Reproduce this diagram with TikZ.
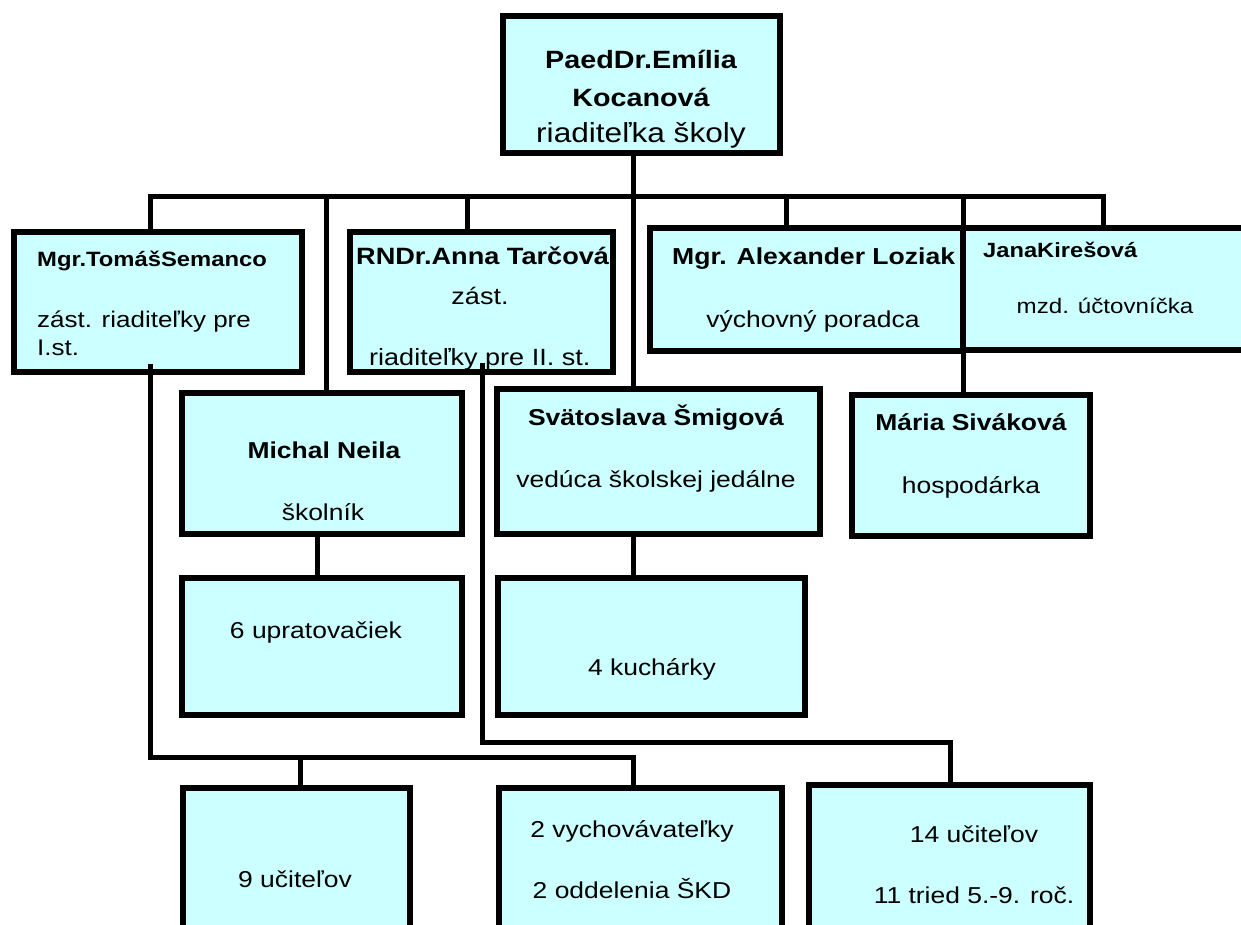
\documentclass[tikz,border=0pt]{standalone}
\usepackage{fontspec}
\setmainfont{Liberation Sans}[FakeStretch=1.15]
\definecolor{boxfill}{HTML}{CCFFFF}
\newcommand\fsz[1]{\fontsize{#1}{#1}\selectfont}
\tikzset{
  box/.style={draw=black, line width=6pt, fill=boxfill, rectangle, inner sep=0pt},
  conn/.style={draw=black, line width=5pt, line join=miter},
  lbl/.style={anchor=base, inner sep=0pt, font=\fsz{23}},
  lblw/.style={anchor=base west, inner sep=0pt, font=\fsz{23}},
}
\begin{document}
\begin{tikzpicture}[x=1pt,y=-1pt]
\clip (0,0) rectangle (1241,925);
\fill[white] (0,0) rectangle (1241,925);

% boxes
\node[box, minimum width=277pt, minimum height=137pt] (top) at (641.5,84.5) {};
\node[box, minimum width=288pt, minimum height=140pt] (sem) at (158,302) {};
\node[box, minimum width=263pt, minimum height=140pt] (tar) at (481.5,302) {};
\node[box, minimum width=313pt, minimum height=123pt] (loz) at (806.5,289.5) {};
\node[box, minimum width=284pt, minimum height=122pt] (kir) at (1105,289) {};
\node[box, minimum width=280pt, minimum height=141pt] (mic) at (322,463.5) {};
\node[box, minimum width=323pt, minimum height=145pt] (smi) at (658.5,461.5) {};
\node[box, minimum width=238pt, minimum height=141pt] (siv) at (971,465.5) {};
\node[box, minimum width=280pt, minimum height=137pt] (upr) at (322,646.5) {};
\node[box, minimum width=307pt, minimum height=137pt] (kuc) at (651.5,646.5) {};
\node[box, minimum width=227pt, minimum height=149pt] (uc9) at (296.5,862.5) {};
\node[box, minimum width=283pt, minimum height=149pt] (vyc) at (640.5,862.5) {};
\node[box, minimum width=281pt, minimum height=152pt] (uc14) at (949.5,861) {};

% texts
\node[lbl, font=\fsz{25}\bfseries] (t1) at (641,69) {PaedDr.Emília};
\node[lbl, font=\fsz{25}\bfseries] (t2) at (641,107) {Kocanová};
\node[lbl, font=\fsz{27.5}] (t3) at (641,143) {riaditeľka školy};

\node[lblw, font=\fsz{20.7}\bfseries] (s1) at (37,266) {Mgr.TomášSemanco};
\node[lblw, font=\fsz{22.6}] (s2) at (37,327) {zást. riaditeľky pre};
\node[lblw, font=\fsz{22.6}] (s3) at (37,355) {I.st.};

\node[lblw, font=\fsz{23.6}\bfseries] (a1) at (356,265) {RNDr.Anna Tarčová};
\node[lbl, font=\fsz{23.5}] (a2) at (480,304) {zást.};
\node[lblw, font=\fsz{23.5}] (a3) at (369,365) {riaditeľky pre II. st.};

\node[lblw, font=\fsz{23.1}\bfseries] (l1) at (672,265) {Mgr. Alexander Loziak};
\node[lbl] (l2) at (813,327) {výchovný poradca};

\node[lblw, font=\fsz{20.6}\bfseries] (k1) at (983,258) {JanaKirešová};
\node[lbl, font=\fsz{21}] (k2) at (1105,313) {mzd. účtovníčka};

\node[lbl, font=\fsz{23}\bfseries] (m1) at (324,458) {Michal Neila};
\node[lbl] (m2) at (323,520) {školník};

\node[lbl, font=\fsz{23}\bfseries] (g1) at (656,425) {Svätoslava Šmigová};
\node[lbl] (g2) at (656,487) {vedúca školskej jedálne};

\node[lbl, font=\fsz{23}\bfseries] (v1) at (971,430) {Mária Siváková};
\node[lbl] (v2) at (971,493) {hospodárka};

\node[lbl] (u1) at (316,638) {6 upratovačiek};
\node[lbl] (c1) at (652,675) {4 kuchárky};
\node[lbl] (n1) at (295,887) {9 učiteľov};
\node[lbl] (y1) at (632,837) {2 vychovávateľky};
\node[lbl] (y2) at (632,898) {2 oddelenia ŠKD};
\node[lbl] (z1) at (974,842) {14 učiteľov};
\node[lbl] (z2) at (974,903) {11 tried 5.-9. roč.};

% connector coordinates
\coordinate (trunk) at (633,197);
\coordinate (barL) at (150,197);
\coordinate (barR) at (1103,197);
\coordinate (dMic) at (326,197);
\coordinate (dTar) at (467,197);
\coordinate (dLoz) at (786,197);
\coordinate (dSiv) at (963,197);
\coordinate (mx) at (317,560);
\coordinate (semOut) at (150,364);
\coordinate (lowL) at (150,757);
\coordinate (lowR) at (633,757);
\coordinate (d9) at (300,757);
\coordinate (tarOut) at (482,363);
\coordinate (midL) at (482,742);
\coordinate (midR) at (950,742);

% connectors
\draw[conn] (top.south -| trunk) -- (trunk |- smi.north);
\draw[conn] (barL |- sem.north) -- (barL) -- (barR) -- (barR |- kir.north);
\draw[conn] (dMic) -- (dMic |- mic.north);
\draw[conn] (dTar) -- (dTar |- tar.north);
\draw[conn] (dLoz) -- (dLoz |- loz.north);
\draw[conn] (dSiv) -- (dSiv |- siv.north);
\draw[conn] (mic.south -| mx) -- (mx |- upr.north);
\draw[conn] (smi.south -| trunk) -- (trunk |- kuc.north);
\draw[conn] (semOut) -- (lowL) -- (lowR) -- (lowR |- vyc.north);
\draw[conn] (d9) -- (d9 |- uc9.north);
\draw[conn] (tarOut) -- (midL) -- (midR) -- (midR |- uc14.north);
\end{tikzpicture}
\end{document}
